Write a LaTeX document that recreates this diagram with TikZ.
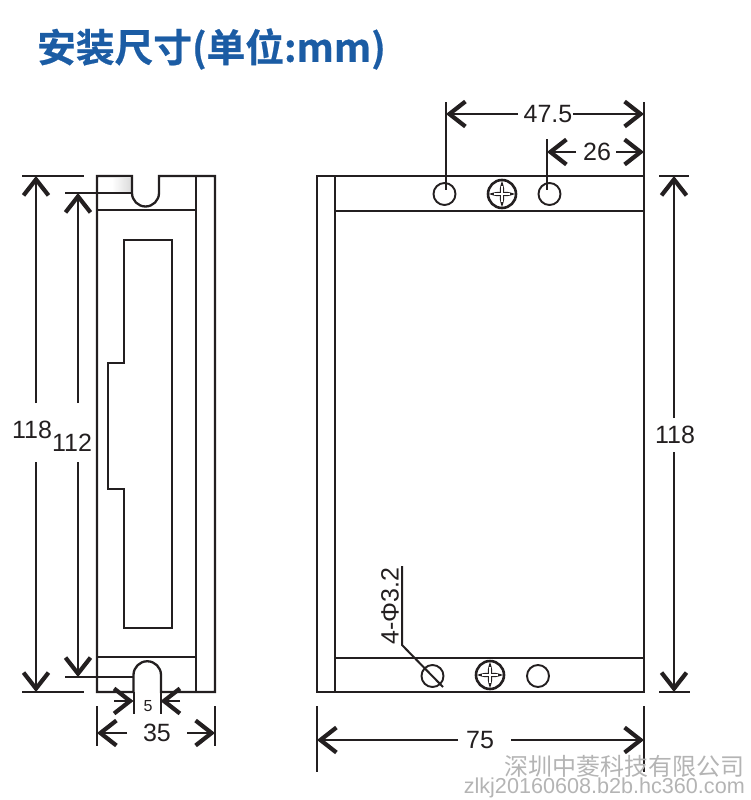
\documentclass[tikz,border=0pt]{standalone}
\usepackage{fontspec}
\setmainfont{Liberation Sans}
\newfontfamily\cjktitle{Noto Sans CJK SC}[BoldFont={Noto Sans CJK SC Bold},BoldFeatures={FakeBold=0.6}]
\usetikzlibrary{arrows.meta,calc}
\definecolor{inkc}{HTML}{231F20}
\definecolor{titleblue}{HTML}{1B5CA4}
\definecolor{markgray}{HTML}{B4B4B4}
\tikzset{
  outline/.style={draw=inkc,line width=2.3pt,line join=miter},
  thinline/.style={draw=inkc,line width=2.1pt},
  extline/.style={draw=inkc,line width=2pt},
  dimline/.style={draw=inkc,line width=1.9pt},
  dimtip/.style={-{Straight Barb[length=16pt,width=25pt,line width=4.2pt]}},
  dimlabel/.style={text=inkc,inner sep=0pt,font=\fontsize{25}{25}\selectfont},
  smalllabel/.style={text=inkc,inner sep=0pt,font=\fontsize{16}{16}\selectfont},
  hole/.style={circle,draw=inkc,line width=1.9pt,minimum size=22pt,inner sep=0pt},
  screwhead/.style={circle,draw=inkc,line width=2.6pt,minimum size=28pt,inner sep=0pt},
  screwcross/.pic={
    \fill[inkc] (-13,0) .. controls (-6,-2.6) and (-1.6,-2.6) .. (-1.6,-1.6)
      .. controls (-2.6,-2.6) and (-2.6,-6) .. (0,-13)
      .. controls (2.6,-6) and (2.6,-2.6) .. (1.6,-1.6)
      .. controls (2.6,-2.6) and (6,-2.6) .. (13,0)
      .. controls (6,2.6) and (2.6,2.6) .. (1.6,1.6)
      .. controls (2.6,2.6) and (2.6,6) .. (0,13)
      .. controls (-2.6,6) and (-2.6,2.6) .. (-1.6,1.6)
      .. controls (-2.6,2.6) and (-6,2.6) .. (-13,0) -- cycle;
    \draw[white,line width=1.1pt] (-8,0) -- (8,0) (0,-8) -- (0,8);
  }
}
\begin{document}
\begin{tikzpicture}[x=1pt,y=-1pt]
\useasboundingbox (0,0) rectangle (750,800);
% title
\node[anchor=west,inner sep=0pt,text=titleblue,font={\cjktitle\bfseries\fontsize{38.7}{38.7}\selectfont}] (title) at (37,49) {安装尺寸(单位:mm)};

% ---- left view
\fill[left color=white,right color=black!14] (112,178) rectangle (131,192);
\draw[outline] (132,176) -- (97,176) -- (97,692) -- (133.5,692)
  -- (133.5,675) arc[start angle=180,end angle=360,radius=13.75] -- (161,692) -- (215,692)
  -- (215,176) -- (159,176) -- (159,193) arc[start angle=0,end angle=180,radius=13.5] -- cycle;
\draw[thinline] (196,176) -- (196,692);
\draw[thinline] (97,210) -- (196,210);
\draw[thinline] (97,657) -- (196,657);
\draw[thinline] (124,240) -- (172,240) -- (172,628) -- (124,628) -- (124,489) -- (108,489) -- (108,363) -- (124,363) -- cycle;

% left dimensions: 118
\coordinate (a1) at (22,176); \coordinate (a2) at (84,176);
\coordinate (a3) at (22,692); \coordinate (a4) at (84,692);
\draw[extline] (a1) -- (a2);
\draw[extline] (a3) -- (a4);
\coordinate (a5) at (36,176); \coordinate (a6) at (36,403);
\coordinate (a7) at (36,692); \coordinate (a8) at (36,462);
\draw[dimline,dimtip] (a6) -- (a5);
\draw[dimline,dimtip] (a8) -- (a7);
\node[dimlabel] (l118) at (32,430) {118};

% left dimensions: 112
\coordinate (b1) at (65,193); \coordinate (b2) at (132,193);
\coordinate (b3) at (65,677); \coordinate (b4) at (133.5,677);
\draw[extline] (b1) -- (b2);
\draw[extline] (b3) -- (b4);
\coordinate (b5) at (78,193); \coordinate (b6) at (78,403);
\coordinate (b7) at (78,677); \coordinate (b8) at (78,462);
\draw[dimline,dimtip] (b6) -- (b5);
\draw[dimline,dimtip] (b8) -- (b7);
\node[dimlabel] (l112) at (72,443) {112};

% slot width 5
\coordinate (c1) at (133.5,692); \coordinate (c2) at (133.5,714);
\coordinate (c3) at (160.5,692); \coordinate (c4) at (160.5,714);
\draw[extline] (c1) -- (c2);
\draw[extline] (c3) -- (c4);
\coordinate (c5) at (114,701); \coordinate (c6) at (133.5,701);
\coordinate (c7) at (180,701); \coordinate (c8) at (160.5,701);
\draw[dimline,dimtip] (c5) -- (c6);
\draw[dimline,dimtip] (c7) -- (c8);
\node[smalllabel] (l5) at (148,706) {5};

% width 35
\coordinate (d1) at (97,706); \coordinate (d2) at (97,746);
\coordinate (d3) at (215,706); \coordinate (d4) at (215,746);
\draw[extline] (d1) -- (d2);
\draw[extline] (d3) -- (d4);
\coordinate (d5) at (127,733); \coordinate (d6) at (97,733);
\coordinate (d7) at (187,733); \coordinate (d8) at (215,733);
\draw[dimline,dimtip] (d5) -- (d6);
\draw[dimline,dimtip] (d7) -- (d8);
\node[dimlabel] (l35) at (157,733) {35};

% ---- right view
\draw[outline] (317,176) rectangle (644,692);
\draw[thinline] (335,176) -- (335,692);
\draw[thinline] (335,211) -- (644,211);
\draw[thinline] (335,658) -- (644,658);
\node[hole] (h1) at (444.5,194) {};
\node[hole] (h2) at (549.5,194) {};
\node[hole] (h3) at (432.5,676) {};
\node[hole] (h4) at (538,676) {};
\node[screwhead] (s1) at (502,194) {};
\node[screwhead] (s2) at (490,675) {};
\pic at (s1) {screwcross};
\pic at (s2) {screwcross};

% 47.5
\coordinate (e1) at (446,102); \coordinate (e2) at (446,190);
\coordinate (e3) at (644,102); \coordinate (e4) at (644,176);
\draw[extline] (e1) -- (e2);
\draw[extline] (e3) -- (e4);
\coordinate (e5) at (518,114); \coordinate (e6) at (446,114);
\coordinate (e7) at (573,114); \coordinate (e8) at (644,114);
\draw[dimline,dimtip] (e5) -- (e6);
\draw[dimline,dimtip] (e7) -- (e8);
\node[dimlabel] (l475) at (548,114) {47.5};

% 26
\coordinate (f1) at (547,139); \coordinate (f2) at (547,190);
\draw[extline] (f1) -- (f2);
\coordinate (f5) at (576,152); \coordinate (f6) at (547,152);
\coordinate (f7) at (616,152); \coordinate (f8) at (644,152);
\draw[dimline,dimtip] (f5) -- (f6);
\draw[dimline,dimtip] (f7) -- (f8);
\node[dimlabel] (l26) at (597,152) {26};

% right 118
\coordinate (g1) at (659,176); \coordinate (g2) at (689,176);
\coordinate (g3) at (659,692); \coordinate (g4) at (690,692);
\draw[extline] (g1) -- (g2);
\draw[extline] (g3) -- (g4);
\coordinate (g5) at (674,418); \coordinate (g6) at (674,176);
\coordinate (g7) at (674,452); \coordinate (g8) at (674,692);
\draw[dimline,dimtip] (g5) -- (g6);
\draw[dimline,dimtip] (g7) -- (g8);
\node[dimlabel] (r118) at (675,435) {118};

% 75
\coordinate (k1) at (317,706); \coordinate (k2) at (317,772);
\coordinate (k3) at (644,706); \coordinate (k4) at (644,772);
\draw[extline] (k1) -- (k2);
\draw[extline] (k3) -- (k4);
\coordinate (k5) at (458,740); \coordinate (k6) at (317,740);
\coordinate (k7) at (511,740); \coordinate (k8) at (644,740);
\draw[dimline,dimtip] (k5) -- (k6);
\draw[dimline,dimtip] (k7) -- (k8);
\node[dimlabel] (l75) at (480,740) {75};

% hole leader
\coordinate (m1) at (402,566); \coordinate (m2) at (402,645); \coordinate (m3) at (443,687);
\draw[extline] (m1) -- (m2) -- (m3);
\node[dimlabel,rotate=90] (lphi) at (390,606) {4-Φ3.2};

% watermark
\node[anchor=east,inner sep=0pt,text=markgray,font={\cjktitle\fontsize{24}{24}\selectfont}] (wm1) at (745,766) {深圳中菱科技有限公司};
\node[anchor=east,inner sep=0pt,text=markgray,font=\fontsize{21.6}{21.6}\selectfont] (wm2) at (745,788) {zlkj20160608.b2b.hc360.com};
\end{tikzpicture}
\end{document}
